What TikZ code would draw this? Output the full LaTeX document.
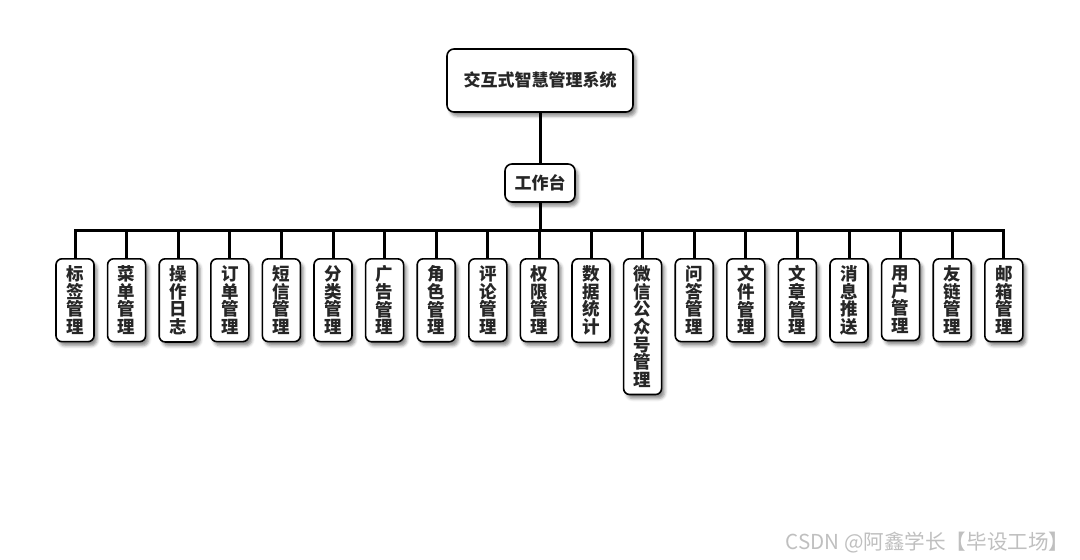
\documentclass[tikz,border=0pt]{standalone}
\usepackage{fontspec}
\newfontfamily\cjk{Noto Sans CJK SC}
\usetikzlibrary{shadows.blur}
\tikzset{
  box/.style={draw=black, line width=1.6pt, fill=white, rounded corners=7pt,
    font=\cjk\bfseries\fontsize{17}{17.6}\selectfont, text=black!85,
    blur shadow={shadow xshift=3pt, shadow yshift=-4pt, shadow blur radius=3pt, shadow opacity=45}},
  leaf/.style={box, font=\cjk\bfseries\fontsize{17.5}{17.6}\selectfont, minimum width=38pt, inner xsep=1pt, inner ysep=7pt, align=center, anchor=north, rounded corners=6pt},
  conn/.style={line width=3pt, black}
}
\begin{document}
\begin{tikzpicture}[x=1pt,y=-1pt]
\useasboundingbox (0,0) rectangle (1080,560);
\node[box, minimum width=186pt, minimum height=63pt] (root) at (540,80.5) {交互式智慧管理系统};
\node[box, minimum width=70pt, minimum height=38pt] (wt) at (540,183) {工作台};
\coordinate (bar) at (540,230);
\foreach \i/\t in {0/标\\签\\管\\理, 1/菜\\单\\管\\理, 2/操\\作\\日\\志, 3/订\\单\\管\\理, 4/短\\信\\管\\理, 5/分\\类\\管\\理, 6/广\\告\\管\\理, 7/角\\色\\管\\理, 8/评\\论\\管\\理, 9/权\\限\\管\\理, 10/数\\据\\统\\计, 11/微\\信\\公\\众\\号\\管\\理, 12/问\\答\\管\\理, 13/文\\件\\管\\理, 14/文\\章\\管\\理, 15/消\\息\\推\\送, 16/用\\户\\管\\理, 17/友\\链\\管\\理, 18/邮\\箱\\管\\理}{
  \node[leaf] (l\i) at ({75+\i*51.6},258) {\t};
}
\draw[conn] (root.south) -- (wt.north);
\draw[conn] (wt.south) -- (bar);
\foreach \i in {0,...,18}{
  \draw[conn] (l\i.north) |- (bar);
}
\node[font=\cjk\fontsize{20.6}{24}\selectfont, text=black!25] (wm) at (927.5,543) {CSDN @阿鑫学长【毕设工场】};
\end{tikzpicture}
\end{document}
